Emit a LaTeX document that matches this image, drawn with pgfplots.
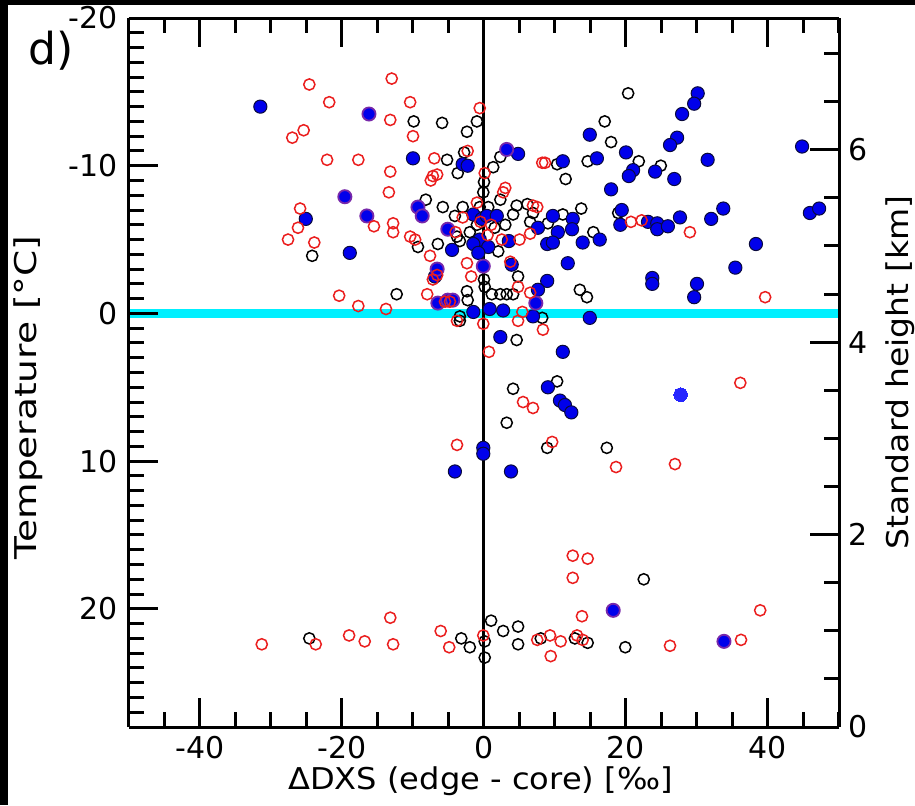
\documentclass[border=0pt]{standalone}
\usepackage{pgfplots}
\pgfplotsset{compat=1.18}
\usepackage{fontspec}
\setmainfont{DejaVu Sans}
\definecolor{dotblue}{RGB}{0,0,235}
\definecolor{dotedge}{RGB}{10,10,60}
\definecolor{ringred}{RGB}{235,30,30}
\definecolor{purpleedge}{RGB}{120,40,170}
\definecolor{zeroline}{RGB}{0,240,255}
\begin{document}
\begin{tikzpicture}
\fill[black] (-64.5pt,-39pt) rectangle (393pt,363.5pt);
\fill[white] (-60.5pt,-39pt) rectangle (393pt,361pt);
\begin{axis}[
  scale only axis, width=355pt, height=354.5pt,
  xmin=-50, xmax=50, ymin=-20, ymax=28, y dir=reverse,
  axis on top, clip=true,
  font=\fontsize{15}{18}\selectfont,
  /pgf/number format/assume math mode=true,
  xtick={-40,-20,0,20,40}, xticklabels={-40,-20,0,20,40},
  minor xtick={-50,-45,...,50},
  ytick={-20,-10,0,10,20}, yticklabels={-20,-10,0,10,20},
  minor ytick={-20,-19,...,28},
  xtick pos=both, ytick pos=left,
  axis y line*=left,
  axis line style={line width=1.5pt},
  every tick/.style={black, line width=1.5pt},
  major tick length=14.5pt, minor tick length=7.5pt,
  xticklabel style={yshift=-1pt},
  yticklabel style={xshift=-2pt},
  xlabel={ΔDXS (edge - core) [‰]},
  ylabel={Temperature [°C]},
  xlabel style={at={(rel axis cs:0.495,0)}, anchor=north, yshift=-19.5pt, inner sep=0pt, xscale=1.07},
  ylabel style={at={(rel axis cs:0,0.465)}, anchor=north, yshift=58pt, inner sep=0pt, xscale=1.25},
]
\addplot[zeroline, line width=4.5pt, forget plot] coordinates {(-50,0) (50,0)};
\addplot[black, line width=1.5pt, forget plot] coordinates {(0,-20) (0,28)};
% black open circles
\addplot[only marks, mark=o, mark size=2.8pt, mark options={draw=black, line width=0.75pt}] coordinates {
(-9.9,-13.0) (-5.9,-12.9) (-1.0,-13.0) (-2.4,-12.3) (-5.2,-10.4) (-3.7,-9.5) (-2.8,-10.9)
(1.3,-9.9) (2.3,-10.6) (-0.1,-8.2) (-8.2,-7.7) (-5.8,-7.2) (-4.1,-6.6) (-3.0,-7.2) (-0.6,-7.2)
(0.6,-7.2) (2.3,-7.7) (4.6,-7.3) (6.1,-7.4) (6.9,-6.8) (6.5,-6.2) (4.1,-6.7) (9.0,-6.1)
(-9.3,-4.5) (-6.5,-4.7) (-3.8,-5.2) (-3.4,-4.9) (10.3,-10.1) (11.5,-9.1) (14.6,-10.3)
(15.4,-5.5) (13.7,-7.1) (11.1,-6.7) (4.8,-2.5) (13.5,-1.6) (14.5,-1.1) (-12.3,-1.3)
(-24.2,-3.9) (0.1,-1.8) (1.1,-1.3) (2.3,-1.3) (3.2,-1.3) (4.1,-1.3) (-2.4,-1.5) (-2.3,-0.9)
(-3.4,0.2) (-3.4,0.5) (4.6,1.8) (8.2,0.3) (4.1,5.1) (10.3,4.6) (3.2,7.4) (8.9,9.1) (17.3,9.1)
(20.3,-14.9) (17.0,-13.0) (17.9,-11.6) (21.8,-10.3) (24.9,-10.0) (18.9,-6.8)
(22.5,18.0) (1.0,20.8) (2.7,21.5) (4.8,21.2) (4.8,22.4) (0.1,22.2) (0.1,23.3) (8.0,22.0)
(12.8,22.0) (14.6,22.3) (19.9,22.6) (-24.6,22.0) (-3.2,22.0) (-2.0,22.6)
(-1.0,-6.0) (1.5,-5.8) (3.0,-6.0) (0.0,-8.9) (0.0,-2.3) (-2.0,-5.5) (2.0,-4.2)
};
% blue filled dots
\addplot[only marks, mark=*, mark size=3.3pt, mark options={fill=dotblue, draw=dotedge, line width=0.5pt}] coordinates {
(-31.5,-14.0) (-25.1,-6.4) (-18.9,-4.1) (-10.0,-10.5) (-4.5,-4.3) (-3.0,-10.1) (-2.3,-10.0)
(4.8,-10.8) (14.9,-12.1) (11.1,-10.3) (15.9,-10.5) (-1.5,-6.7) (-0.3,-6.4) (0.4,-6.6) (1.8,-6.6)
(-0.6,-5.0) (-1.5,-4.7) (0.6,-4.5) (-0.8,-4.1) (3.5,-4.9) (3.9,-3.3) (7.6,-5.8) (9.7,-6.6)
(10.4,-5.5) (12.5,-6.4) (12.4,-5.7) (13.9,-4.8) (16.3,-5.0) (8.9,-4.7) (9.7,-4.8) (11.8,-3.4)
(8.9,-2.2) (7.6,-1.6) (-6.9,-2.5) (0.8,-0.3) (2.7,-0.2) (-1.5,-0.1) (6.9,0.2) (14.9,0.3)
(2.3,1.6) (11.1,2.6) (9.0,5.0) (10.7,5.9) (11.4,6.2) (12.3,6.7) (-0.1,9.1) (-0.1,9.5)
(-4.1,10.7) (3.8,10.7) (30.1,-14.9) (29.6,-14.2) (27.9,-13.5) (27.2,-11.9) (26.2,-11.4)
(44.8,-11.3) (31.5,-10.4) (20.0,-10.9) (21.0,-9.7) (20.4,-9.3) (24.1,-9.6) (26.8,-9.1)
(17.9,-8.4) (33.7,-7.1) (32.0,-6.4) (27.6,-6.5) (19.4,-7.0) (19.2,-6.0) (23.1,-6.2)
(24.4,-6.1) (24.4,-5.7) (25.9,-5.9) (38.3,-4.7) (45.9,-6.8) (47.2,-7.1) (23.7,-2.4)
(23.7,-2.0) (35.4,-3.1) (30.0,-2.0) (29.6,-1.1)
};
\addplot[only marks, mark=*, mark size=3.4pt, mark options={fill=blue!85!white, draw=blue!85!white, line width=0pt}] coordinates {(27.7,5.5)};
% blue dots with purple rim
\addplot[only marks, mark=*, mark size=3.3pt, mark options={fill=dotblue, draw=purpleedge, line width=0.9pt}] coordinates {
(-16.2,-13.5) (-19.6,-7.9) (-16.5,-6.6) (-9.3,-7.2) (-8.7,-6.6) (-5.1,-5.7) (3.2,-11.1)
(-0.1,-3.2) (-6.6,-3.0) (-6.5,-0.7) (-5.1,-0.9) (-4.4,-0.9) (7.3,-0.7) (18.2,20.1) (33.8,22.2)
};
% red open circles
\addplot[only marks, mark=o, mark size=2.8pt, mark options={draw=ringred, line width=0.75pt}] coordinates {
(-31.3,22.4) (-23.7,22.4) (-19.0,21.8) (-16.8,22.2) (-13.2,20.6) (-12.8,22.4) (-6.1,21.5)
(-4.9,22.6) (-0.1,21.8) (12.5,17.9) (12.5,16.4) (14.6,16.6) (13.8,20.5) (9.3,21.8) (7.5,22.1)
(10.8,22.2) (13.1,21.8) (13.9,22.1) (9.4,23.2) (26.2,22.5) (36.2,22.1) (38.9,20.1)
(-24.6,-15.5) (-21.8,-14.3) (-27.0,-11.9) (-25.4,-12.4) (-22.1,-10.4) (-25.9,-7.1)
(-26.2,-5.8) (-27.6,-5.0) (-23.9,-4.8) (-20.4,-1.2) (-13.2,-13.1) (-10.4,-14.3)
(-10.0,-12.0) (-13.0,-15.9) (-17.7,-10.4) (-13.2,-9.6) (-13.4,-8.2) (-7.0,-10.5)
(-7.2,-9.3) (-6.6,-9.4) (-7.5,-9.0) (-0.6,-13.9) (-2.3,-11.0) (0.1,-9.5) (2.7,-8.2)
(8.2,-10.2) (8.6,-10.2) (6.9,-7.3) (7.5,-7.2) (-17.7,-0.5) (-13.8,-0.3) (-12.8,-6.1)
(-12.8,-5.5) (-15.5,-5.9) (-10.4,-5.2) (-9.7,-5.0) (-7.6,-3.9) (-7.2,-2.3) (-6.6,-2.6)
(-8.0,-1.3) (-5.5,-0.8) (-4.8,-0.8) (-2.4,-3.4) (-1.8,-2.5) (3.7,-3.5) (4.8,-1.8)
(6.5,-1.4) (5.4,-0.1) (4.8,0.5) (8.3,1.1) (-0.1,0.7) (-3.8,0.5) (0.7,2.6) (-3.8,8.9)
(5.5,6.0) (6.9,6.4) (9.6,8.7) (18.6,10.4) (26.9,10.2) (36.1,4.7) (39.6,-1.1)
(20.7,-6.2) (22.2,-6.3) (29.0,-5.5)
(-3.0,-6.5) (-1.0,-7.5) (1.0,-6.0) (2.5,-5.0) (-4.0,-5.5) (3.0,-8.5) (5.0,-5.0) (6.5,-5.4)
(-0.5,-6.2) (0.5,-5.3)
};
\end{axis}
\begin{axis}[
  scale only axis, width=355pt, height=354.5pt,
  xmin=-50, xmax=50, ymin=0, ymax=7.37,
  axis x line=none, axis y line*=right, ytick pos=right,
  font=\fontsize{15}{18}\selectfont,
  ytick={0,2,4,6}, yticklabels={0,2,4,6},
  minor ytick={0,0.5,...,7},
  axis line style={line width=1.5pt},
  every tick/.style={black, line width=1.5pt},
  major tick length=14.5pt, minor tick length=7.5pt,
  yticklabel style={xshift=1pt},
  ylabel={Standard height [km]},
  ylabel style={at={(rel axis cs:1,0.5)}, anchor=north, yshift=-23pt, inner sep=0pt, xscale=1.1},
]
\end{axis}
\node[anchor=base west, inner sep=0pt, font=\fontsize{22}{26}\selectfont] at (-50.5pt,331pt) {d)};
\pgfresetboundingbox
\path[use as bounding box] (-64.5pt,-39pt) rectangle (393pt,363.5pt);
\end{tikzpicture}
\end{document}
